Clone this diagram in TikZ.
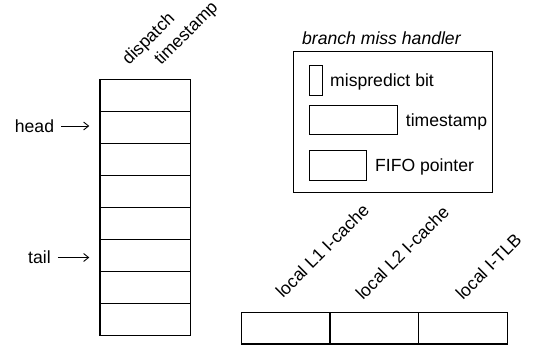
\documentclass[tikz,border=0pt]{standalone}
\usepackage{fontspec}
\setmainfont{Liberation Sans}
\usetikzlibrary{arrows.meta}
\begin{document}
\begin{tikzpicture}[x=1pt,y=1pt,
  lbl/.style={inner sep=0pt,anchor=base west,font=\fontsize{17.6}{20}\selectfont},
  slant/.style={lbl,rotate=45},
  cell/.style={draw,line width=1.3pt,inner sep=0pt,minimum width=90.7pt,minimum height=32pt},
  slot/.style={draw,line width=1.3pt,inner sep=0pt,minimum height=31.7pt},
  field/.style={draw,line width=0.9pt,inner sep=0pt},
  ptr/.style={line width=0.9pt,-{Straight Barb[length=5pt,width=8pt]},shorten <=7pt,shorten >=10pt}]
\useasboundingbox (0,0) rectangle (536,-348);

% FIFO of dispatch timestamps: eight stacked entries
\foreach \i in {1,...,8}
  \node[cell] (f\i) at (145.3,{-(79.3+32*(\i-1)+16)}) {};
\node[slant] (hdisp) at (129,-66) {dispatch};
\node[slant] (hts) at (161,-66) {timestamp};

% head and tail pointers
\node[lbl] (head) at (14.7,-132.3) {head};
\node[lbl] (tail) at (28,-263) {tail};
\draw[ptr] ([yshift=6.3pt]head.base east) -- ([yshift=6.3pt]head.base east -| f2.west);
\draw[ptr] ([yshift=5.5pt]tail.base east) -- ([yshift=5.5pt]tail.base east -| f6.west);

% branch miss handler with its three fields
\node[lbl,font=\fontsize{17.6}{20}\selectfont\itshape] (bmhT) at (302,-44.3) {branch miss handler};
\node[draw,line width=0.9pt,inner sep=0pt,minimum width=199.4pt,minimum height=140.6pt] (bmh) at (393,-122) {};
\node[field,minimum width=12.7pt,minimum height=29.7pt] (mb) at (315.65,-80.15) {};
\node[lbl] (mbT) at (330,-86.6) {mispredict bit};
\node[field,minimum width=88.4pt,minimum height=29.4pt] (ts) at (353.5,-120) {};
\node[lbl] (tsT) at (405.7,-126) {timestamp};
\node[field,minimum width=57.4pt,minimum height=29.3pt] (fp) at (338,-165.35) {};
\node[lbl] (fpT) at (375,-171.8) {FIFO pointer};

% local caches
\node[slot,minimum width=88.3pt] (c1) at (285.85,-328.15) {};
\node[slot,minimum width=88.3pt] (c2) at (374.15,-328.15) {};
\node[slot,minimum width=89.4pt] (c3) at (463,-328.15) {};
\node[slant] (c1T) at (283,-299) {local L1 I-cache};
\node[slant] (c2T) at (363,-301) {local L2 I-cache};
\node[slant] (c3T) at (463,-301) {local I-TLB};
\end{tikzpicture}
\end{document}
